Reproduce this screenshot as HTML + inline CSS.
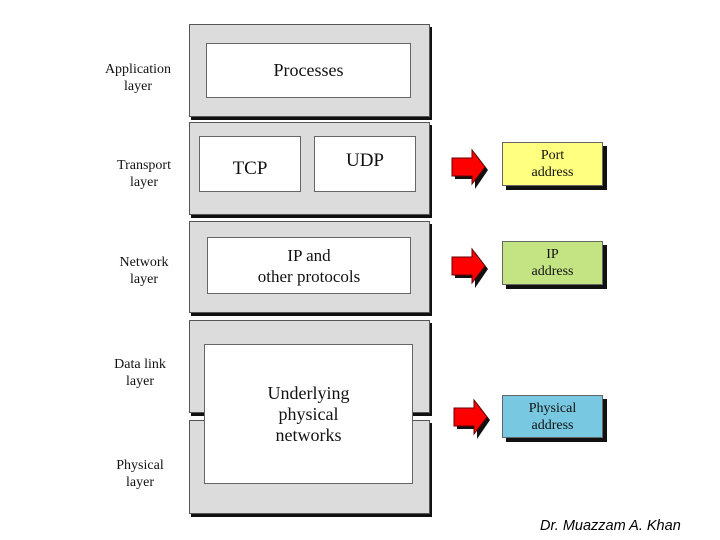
<!DOCTYPE html>
<html><head><style>
body{margin:0;width:720px;height:540px;background:#fff;position:relative;overflow:hidden;font-family:"Liberation Serif",serif;}
.a{position:absolute;box-sizing:border-box;}
.L{background:#dcdcdc;border:1px solid #555;box-shadow:2px 3px 0 #111;}
.I{background:#fff;border:1px solid #666;display:flex;align-items:center;justify-content:center;text-align:center;color:#111;line-height:1.15;}
.lab{position:absolute;width:100px;text-align:center;font-size:14px;line-height:17px;color:#111;}
.ad{position:absolute;box-sizing:border-box;border:1px solid #666;box-shadow:4px 4px 0 #111;display:flex;align-items:center;justify-content:center;text-align:center;font-size:14px;line-height:17px;color:#111;}
</style></head><body>
<div class="lab" style="left:88px;top:61px">Application<br>layer</div>
<div class="lab" style="left:94px;top:157px">Transport<br>layer</div>
<div class="lab" style="left:94px;top:254px">Network<br>layer</div>
<div class="lab" style="left:90px;top:356px">Data link<br>layer</div>
<div class="lab" style="left:90px;top:457px">Physical<br>layer</div>

<div class="a L" style="left:189px;top:24px;width:241px;height:93px"></div>
<div class="a L" style="left:189px;top:122px;width:241px;height:93px"></div>
<div class="a L" style="left:189px;top:221px;width:241px;height:92px"></div>
<div class="a L" style="left:189px;top:320px;width:241px;height:93px"></div>
<div class="a L" style="left:189px;top:420px;width:241px;height:94px"></div>

<div class="a I" style="left:206px;top:43px;width:205px;height:55px;font-size:18px">Processes</div>
<div class="a I" style="left:199px;top:136px;width:102px;height:56px;font-size:19px;padding-top:10px">TCP</div>
<div class="a I" style="left:314px;top:136px;width:102px;height:56px;font-size:19px;padding-bottom:6px">UDP</div>
<div class="a I" style="left:207px;top:237px;width:204px;height:57px;font-size:17px;line-height:21px">IP and<br>other protocols</div>
<div class="a I" style="left:204px;top:344px;width:209px;height:140px;font-size:18px;line-height:21px">Underlying<br>physical<br>networks</div>

<div class="ad" style="left:502px;top:142px;width:101px;height:44px;background:#ffff80">Port<br>address</div>
<div class="ad" style="left:502px;top:241px;width:101px;height:44px;background:#c4e484">IP<br>address</div>
<div class="ad" style="left:502px;top:395px;width:101px;height:43px;background:#77c8e0">Physical<br>address</div>

<svg class="a" style="left:0;top:0" width="720" height="540">
<g>
<polygon points="455,161 475,161 475,153 488,170 475,189 475,179 455,179" fill="#111"/>
<polygon points="452,158 472,158 472,150 485,167 472,184 472,176 452,176" fill="#f00" stroke="#600" stroke-width="1"/>
</g>
<g transform="translate(0,99)">
<polygon points="455,161 475,161 475,153 488,170 475,189 475,179 455,179" fill="#111"/>
<polygon points="452,158 472,158 472,150 485,167 472,184 472,176 452,176" fill="#f00" stroke="#600" stroke-width="1"/>
</g>
<g transform="translate(2,250)">
<polygon points="455,161 475,161 475,153 488,170 475,189 475,179 455,179" fill="#111"/>
<polygon points="452,158 472,158 472,150 485,167 472,184 472,176 452,176" fill="#f00" stroke="#600" stroke-width="1"/>
</g>
</svg>
<div class="a" style="left:540px;top:518px;font-family:'Liberation Sans',sans-serif;font-style:italic;font-size:14.5px;color:#000">Dr. Muazzam A. Khan</div>
</body></html>
